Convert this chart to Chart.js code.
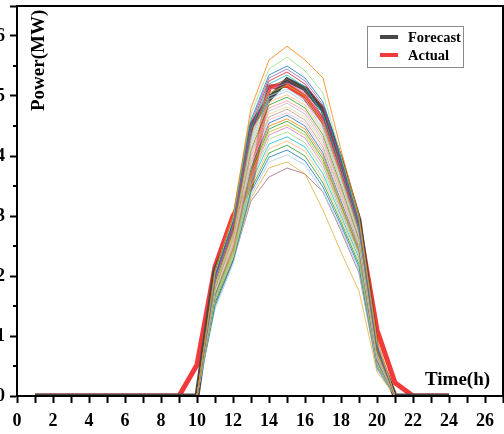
<!DOCTYPE html>
<html>
<head>
<meta charset="utf-8">
<script src="https://cdn.jsdelivr.net/npm/chart.js@4"></script>
<style>
  html, body { margin: 0; padding: 0; background: #fff; }
  #wrap { position: relative; width: 504px; height: 434px; overflow: hidden; }
  #chart { position: absolute; left: -20px; top: 0; }
</style>
</head>
<body>
<div id="wrap"><canvas id="chart" width="524" height="434"></canvas></div>
<script>
// hours of the day
const hours = [1, 2, 3, 4, 5, 6, 7, 8, 9, 10, 11, 12, 13, 14, 15, 16, 17, 18, 19, 20, 21, 22, 23, 24];
const actual   = [0, 0, 0, 0, 0, 0, 0, 0, 0, 0.52, 2.15, 3.0, 3.5, 5.15, 5.18, 4.98, 4.58, 3.77, 2.85, 1.1, 0.22, 0, 0, 0];
const forecast = [0, 0, 0, 0, 0, 0, 0, 0, 0, 0, 2.08, 2.8, 4.5, 4.95, 5.27, 5.12, 4.77, 3.93, 2.93, 0.75, 0, 0, 0, 0];

// scenario hours and values (thin lines)
const scenHours = [10, 11, 12, 13, 14, 15, 16, 17, 18, 19, 20, 21];
const scenarios = [
  [0, 2.10, 3.00, 4.80, 5.60, 5.83, 5.60, 5.30, 4.10, 3.00, 0.95, 0],
  [0, 2.05, 2.95, 4.70, 5.45, 5.65, 5.42, 5.05, 4.00, 2.95, 0.90, 0],
  [0, 2.00, 2.90, 4.60, 5.35, 5.50, 5.30, 4.90, 3.95, 2.90, 0.85, 0],
  [0, 1.95, 2.85, 4.55, 5.30, 5.45, 5.25, 4.85, 3.90, 2.88, 0.85, 0],
  [0, 2.00, 2.80, 4.50, 5.25, 5.40, 5.20, 4.80, 3.85, 2.85, 0.80, 0],
  [0, 1.95, 2.85, 4.45, 5.20, 5.35, 5.15, 4.70, 3.80, 2.80, 0.80, 0],
  [0, 1.90, 2.75, 4.40, 5.15, 5.28, 5.10, 4.65, 3.75, 2.78, 0.75, 0],
  [0, 1.90, 2.80, 4.35, 5.10, 5.22, 5.05, 4.60, 3.70, 2.75, 0.78, 0],
  [0, 1.85, 2.70, 4.30, 5.05, 5.18, 5.00, 4.55, 3.65, 2.72, 0.72, 0],
  [0, 1.88, 2.75, 4.25, 5.00, 5.12, 4.95, 4.50, 3.62, 2.70, 0.75, 0],
  [0, 1.85, 2.70, 4.20, 4.95, 5.08, 4.90, 4.45, 3.58, 2.68, 0.70, 0],
  [0, 1.82, 2.65, 4.15, 4.90, 5.02, 4.85, 4.40, 3.55, 2.65, 0.70, 0],
  [0, 1.80, 2.65, 4.10, 4.85, 4.98, 4.80, 4.35, 3.50, 2.62, 0.68, 0],
  [0, 1.80, 2.60, 4.05, 4.80, 4.92, 4.75, 4.30, 3.45, 2.60, 0.68, 0],
  [0, 1.78, 2.60, 4.00, 4.75, 4.88, 4.70, 4.25, 3.42, 2.58, 0.65, 0],
  [0, 1.75, 2.55, 3.95, 4.70, 4.82, 4.65, 4.20, 3.38, 2.55, 0.65, 0],
  [0, 1.75, 2.55, 3.90, 4.65, 4.78, 4.60, 4.15, 3.35, 2.52, 0.62, 0],
  [0, 1.72, 2.50, 3.85, 4.60, 4.72, 4.55, 4.10, 3.30, 2.50, 0.62, 0],
  [0, 1.70, 2.50, 3.80, 4.55, 4.68, 4.50, 4.05, 3.25, 2.48, 0.60, 0],
  [0, 1.70, 2.45, 3.78, 4.50, 4.62, 4.45, 4.00, 3.20, 2.45, 0.60, 0],
  [0, 1.68, 2.45, 3.75, 4.45, 4.58, 4.40, 3.95, 3.18, 2.42, 0.58, 0],
  [0, 1.65, 2.40, 3.70, 4.40, 4.52, 4.35, 3.90, 3.15, 2.40, 0.58, 0],
  [0, 1.65, 2.40, 3.65, 4.35, 4.48, 4.30, 3.85, 3.10, 2.38, 0.55, 0],
  [0, 1.62, 2.35, 3.60, 4.28, 4.40, 4.22, 3.78, 3.05, 2.35, 0.55, 0],
  [0, 1.60, 2.35, 3.55, 4.20, 4.32, 4.15, 3.70, 3.00, 2.30, 0.52, 0],
  [0, 1.60, 2.30, 3.50, 4.12, 4.25, 4.08, 3.62, 2.95, 2.25, 0.50, 0],
  [0, 1.55, 2.28, 3.45, 4.05, 4.18, 4.00, 3.55, 2.90, 2.20, 0.50, 0],
  [0, 1.50, 2.25, 3.40, 3.98, 4.10, 3.92, 3.48, 2.85, 2.15, 0.48, 0],
  [0, 1.45, 2.20, 3.35, 3.90, 4.02, 3.85, 3.40, 2.80, 2.10, 0.45, 0],
  [0, 1.60, 2.30, 3.30, 3.80, 3.90, 3.70, 3.10, 2.40, 1.75, 0.40, 0],
  [0, 1.55, 2.25, 3.25, 3.65, 3.80, 3.70, 3.40, 2.75, 2.05, 0.45, 0]
];
const scenColors = ['#ff7f0e', '#98df8a', '#1f77b4', '#9467bd', '#d62728', '#17becf', '#8c564b', '#e377c2',
  '#bcbd22', '#9edae5', '#aec7e8', '#ffbb78', '#2ca02c', '#ff9896', '#c5b0d5', '#dbdb8d', '#c49c94',
  '#f7b6d2', '#1f77b4', '#ff7f0e', '#2ca02c', '#bcbd22', '#e377c2', '#98df8a', '#17becf', '#ffbb78',
  '#2ca02c', '#1f77b4', '#aec7e8', '#e0b040', '#a07080'];

const serif = "'Liberation Serif', 'Times New Roman', serif";

function pts(xs, ys) {
  return xs.map((x, i) => ({ x: x, y: ys[i] }));
}

const datasets = scenarios.map((s, i) => ({
  data: pts(scenHours, s),
  borderColor: scenColors[i % scenColors.length] + 'd0',
  borderWidth: 1,
  pointRadius: 0,
  tension: 0
}));
datasets.push({ label: 'Forecast', data: pts(hours, forecast), borderColor: '#474747', borderWidth: 5, pointRadius: 0, tension: 0 });
datasets.push({ label: 'Actual', data: pts(hours, actual), borderColor: '#f23a3a', borderWidth: 5, pointRadius: 0, tension: 0 });

// frame, minor ticks, axis titles and legend
const extras = {
  id: 'extras',
  afterDraw(chart) {
    const ctx = chart.ctx;
    const a = chart.chartArea;
    const ys = chart.scales.y;
    ctx.save();
    ctx.strokeStyle = '#000';
    ctx.lineWidth = 2;
    ctx.strokeRect(a.left, a.top, a.right - a.left, a.bottom - a.top);

    // y minor ticks
    ctx.beginPath();
    for (let v = 0.5; v < 6.5; v += 1) {
      const py = Math.round(ys.getPixelForValue(v));
      ctx.moveTo(a.left, py);
      ctx.lineTo(a.left - 4, py);
    }
    ctx.stroke();

    // axis titles inside the plot
    ctx.fillStyle = '#000';
    ctx.font = 'bold 19px ' + serif;
    ctx.textBaseline = 'alphabetic';
    ctx.textAlign = 'left';
    ctx.fillText('Time(h)', a.left + 408, a.bottom - 11);
    ctx.translate(a.left + 27, a.top + 105);
    ctx.rotate(-Math.PI / 2);
    ctx.fillText('Power(MW)', 0, 0);
    ctx.setTransform(1, 0, 0, 1, 0, 0);

    // legend
    const lx = a.left + 350, ly = a.top + 20;
    ctx.strokeStyle = '#8a8a8a';
    ctx.lineWidth = 1;
    ctx.strokeRect(lx + 0.5, ly + 0.5, 96, 41);
    ctx.lineWidth = 4;
    ctx.lineCap = 'butt';
    ctx.strokeStyle = '#474747';
    ctx.beginPath(); ctx.moveTo(lx + 13, ly + 11); ctx.lineTo(lx + 31, ly + 11); ctx.stroke();
    ctx.strokeStyle = '#f23a3a';
    ctx.beginPath(); ctx.moveTo(lx + 13, ly + 29); ctx.lineTo(lx + 31, ly + 29); ctx.stroke();
    ctx.fillStyle = '#000';
    ctx.font = 'bold 14.5px ' + serif;
    ctx.fillText('Forecast', lx + 41, ly + 16);
    ctx.fillText('Actual', lx + 41, ly + 34);
    ctx.restore();
  }
};

new Chart(document.getElementById('chart'), {
  type: 'line',
  data: { datasets: datasets },
  options: {
    responsive: false,
    animation: false,
    devicePixelRatio: 1,
    layout: { padding: { top: 6, right: 1, left: 0, bottom: 0 } },
    plugins: { legend: { display: false }, tooltip: { enabled: false } },
    scales: {
      x: {
        type: 'linear',
        min: 0,
        max: 27,
        border: { display: true, color: '#000', width: 2 },
        grid: { drawOnChartArea: false, drawTicks: true, tickLength: 7, tickWidth: 2, tickColor: '#000' },
        ticks: {
          stepSize: 1,
          autoSkip: false,
          maxRotation: 0,
          padding: 8,
          color: '#000',
          font: { family: serif, size: 18, weight: 'bold' },
          callback: v => (v % 2 === 0 && v <= 26 ? String(v) : '')
        },
        afterFit(s) { s.height = 38; s.paddingLeft = 0; s.paddingRight = 0; }
      },
      y: {
        min: 0,
        max: 6.5,
        border: { display: true, color: '#000', width: 2 },
        grid: { drawOnChartArea: false, drawTicks: true, tickLength: 7, tickWidth: 2, tickColor: '#000' },
        ticks: {
          stepSize: 1,
          padding: 5,
          color: '#000',
          font: { family: serif, size: 18, weight: 'bold' },
          callback: v => (Number.isInteger(v) ? String(v) : '')
        },
        afterFit(s) { s.width = 37; s.paddingTop = 0; s.paddingBottom = 0; }
      }
    }
  },
  plugins: [extras]
});
</script>
</body>
</html>
